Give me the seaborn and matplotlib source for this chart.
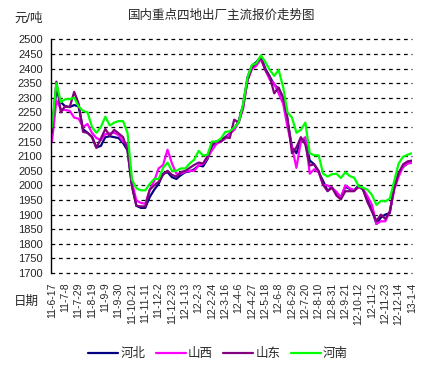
import pandas as pd
import matplotlib
matplotlib.use("Agg")
import matplotlib.pyplot as plt
import seaborn as sns

# weekly quotes, 2011-06-17 .. 2013-01-04 (yuan/ton)
hebei = [2180, 2330, 2285, 2270, 2268, 2275, 2270, 2192, 2180, 2167,
         2130, 2135, 2165, 2168, 2165, 2162, 2145, 2120, 2000, 1930,
         1923, 1923, 1960, 1985, 2005, 2040, 2045, 2028, 2022, 2035,
         2045, 2048, 2055, 2068, 2065, 2090, 2135, 2150, 2155, 2165,
         2178, 2192, 2220, 2275, 2370, 2410, 2422, 2440, 2400, 2372,
         2345, 2330, 2300, 2220, 2130, 2110, 2155, 2155, 2085, 2072,
         2045, 2015, 1982, 1992, 1975, 1960, 1995, 1988, 1983, 2000,
         1985, 1948, 1915, 1868, 1890, 1900, 1905, 1995, 2042, 2063,
         2075, 2083]
shanxi = [2150, 2290, 2262, 2258, 2255, 2232, 2228, 2200, 2210, 2180,
          2162, 2155, 2175, 2178, 2180, 2172, 2150, 2140, 2010, 1948,
          1940, 1937, 1985, 2015, 2058, 2070, 2122, 2075, 2040, 2040,
          2047, 2050, 2050, 2068, 2073, 2095, 2120, 2142, 2150, 2160,
          2177, 2190, 2215, 2262, 2360, 2398, 2410, 2432, 2395, 2362,
          2348, 2315, 2280, 2200, 2130, 2060, 2150, 2165, 2040, 2055,
          2045, 2002, 2000, 1990, 1978, 1958, 2000, 1990, 1983, 1993,
          1988, 1962, 1933, 1868, 1877, 1877, 1910, 1985, 2030, 2065,
          2075, 2077]
shandong = [2180, 2355, 2250, 2272, 2268, 2320, 2280, 2183, 2180, 2165,
            2128, 2160, 2193, 2170, 2190, 2178, 2165, 2120, 1995, 1930,
            1928, 1928, 1985, 2000, 2012, 2036, 2050, 2036, 2030, 2045,
            2050, 2060, 2070, 2078, 2075, 2100, 2140, 2150, 2150, 2165,
            2162, 2225, 2215, 2270, 2360, 2405, 2418, 2438, 2395, 2372,
            2315, 2335, 2300, 2230, 2110, 2130, 2165, 2140, 2068, 2072,
            2050, 2002, 1980, 1993, 1965, 1952, 1980, 1980, 1980, 1997,
            1985, 1942, 1910, 1878, 1900, 1885, 1910, 1990, 2042, 2072,
            2082, 2085]
henan = [2200, 2350, 2285, 2295, 2295, 2300, 2270, 2255, 2250, 2200,
         2180, 2200, 2235, 2205, 2215, 2220, 2220, 2180, 2020, 1990,
         1983, 1983, 2005, 2022, 2022, 2060, 2078, 2050, 2050, 2058,
         2058, 2075, 2088, 2118, 2102, 2105, 2150, 2150, 2160, 2183,
         2185, 2198, 2215, 2278, 2370, 2412, 2418, 2445, 2422, 2395,
         2375, 2395, 2337, 2250, 2232, 2180, 2190, 2215, 2110, 2103,
         2103, 2040, 2030, 2038, 2040, 2025, 2045, 2032, 2026, 1997,
         1992, 1985, 1967, 1933, 1947, 1945, 1955, 2015, 2075, 2098,
         2105, 2110]

provinces = ["河北", "山西", "山东", "河南"]
colors = ["#000080", "#FF00FF", "#800080", "#00FF00"]

tick_labels = ["11-6-17", "11-7-8", "11-7-29", "11-8-19", "11-9-9", "11-9-30",
               "11-10-21", "11-11-11", "11-12-2", "11-12-23", "12-1-13", "12-2-3",
               "12-2-24", "12-3-16", "12-4-6", "12-4-27", "12-5-18", "12-6-8",
               "12-6-29", "12-7-20", "12-8-10", "12-8-31", "12-9-21", "12-10-12",
               "12-11-2", "12-11-23", "12-12-14", "13-1-4"]

dates = pd.date_range("2011-06-17", periods=len(hebei), freq="7D")
tick_dates = pd.date_range("2011-06-17", periods=len(tick_labels), freq="21D")

df = pd.concat([
    pd.DataFrame({"date": dates, "price": vals, "province": name})
    for name, vals in zip(provinces, [hebei, shanxi, shandong, henan])
])

sns.set_style("white")
plt.rcParams["font.family"] = ["Liberation Sans", "Noto Sans CJK SC", "DejaVu Sans"]

fig = plt.figure(figsize=(4.33, 3.70), dpi=100)
ax = fig.add_axes([51 / 433, 1 - 273 / 370, 361 / 433, (273 - 39.3) / 370])

sns.lineplot(data=df, x="date", y="price", hue="province", hue_order=provinces,
             palette=colors, linewidth=1.6, ax=ax)

ax.set_ylim(1700, 2500)
ax.set_yticks(range(1700, 2501, 50))
ax.set_xlim(tick_dates[0] - pd.Timedelta(days=1.5), tick_dates[-1])
ax.set_xticks(tick_dates)
ax.set_xticklabels(tick_labels, rotation=90, fontsize=7.5)
ax.tick_params(axis="y", labelsize=8, length=0, pad=6)
ax.tick_params(axis="x", length=0, pad=7)
ax.set_xlabel("")
ax.set_ylabel("")

ax.yaxis.grid(True, linestyle=(0, (3, 3)), color="black", linewidth=0.9)
ax.xaxis.grid(False)
for s in ["top", "right", "bottom"]:
    ax.spines[s].set_visible(False)
ax.spines["left"].set_color("black")
ax.spines["left"].set_linewidth(1)
for gl in ax.get_ygridlines():
    gl.set_clip_on(False)

fig.text(222 / 433, 1 - 16 / 370, "国内重点四地出厂主流报价走势图", ha="center",
         va="center", fontsize=9)
fig.text(14 / 433, 1 - 19 / 370, "元/吨", ha="left", va="center", fontsize=9)
fig.text(14 / 433, 1 - 302 / 370, "日期", ha="left", va="center", fontsize=9)

handles, labels = ax.get_legend_handles_labels()
ax.get_legend().remove()
fig.legend(handles, labels, loc="center", bbox_to_anchor=(218 / 433, 1 - 354 / 370),
           ncol=4, frameon=False, fontsize=9, handlelength=2.4, handletextpad=0.2,
           columnspacing=0.8)

fig.savefig("out.png", dpi=100)
